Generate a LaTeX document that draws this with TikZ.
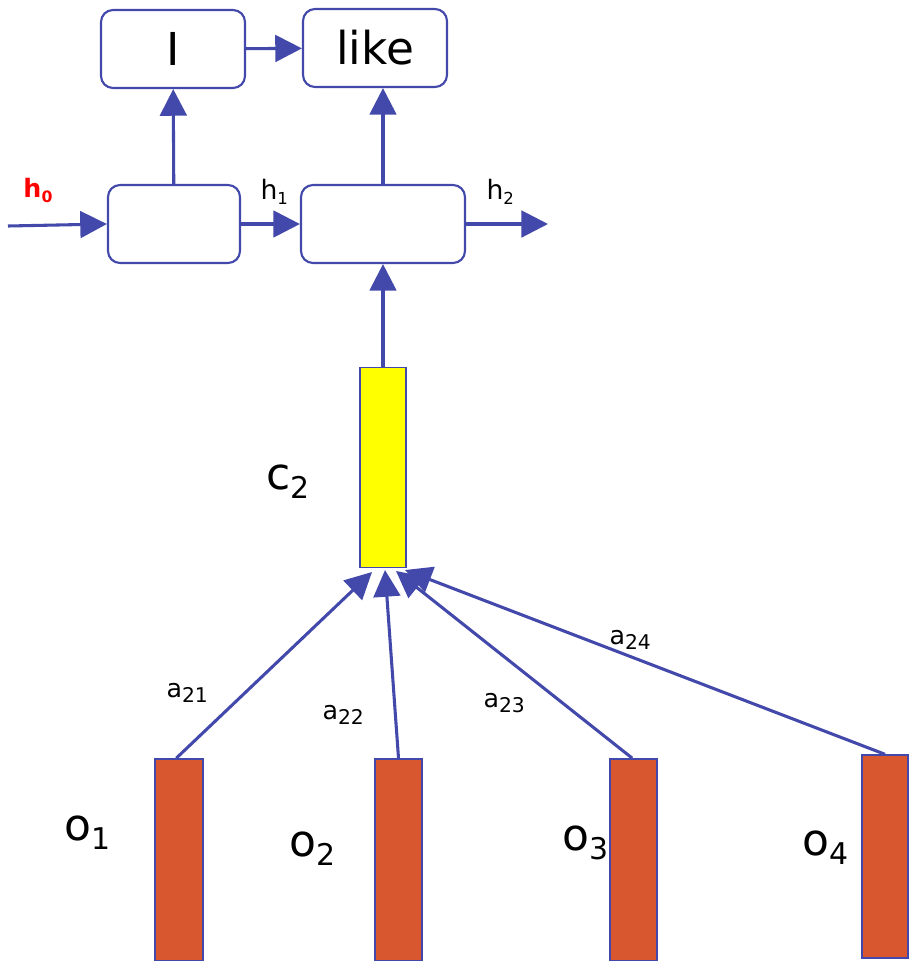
\documentclass[tikz,border=0pt]{standalone}
\usepackage{fontspec}
\setmainfont{DejaVu Sans}
\usetikzlibrary{arrows.meta}

\definecolor{lineblue}{RGB}{67,73,171}
\definecolor{encred}{RGB}{216,87,47}
\definecolor{ctxyellow}{RGB}{255,255,0}

\newcommand{\lowsub}[2][0.7]{\raisebox{-0.22em}{\scalebox{#1}{#2}}}

\tikzset{every picture/.style={line width=0.75pt}}
\tikzset{
  cell/.style={draw=lineblue, line width=1.6pt, rounded corners=9pt, fill=white, inner sep=0pt},
  bar/.style={draw=lineblue, line width=1.3pt, inner sep=0pt},
  arr/.style={draw=lineblue, line width=2.3pt, -{Triangle[length=20pt,width=20pt]}},
  lbl/.style={anchor=base west, inner sep=0pt},
}

\begin{document}
\begin{tikzpicture}[x=0.75pt,y=0.75pt,yscale=-1,xscale=1]
\useasboundingbox (0,0) rectangle (909,961);

%words
\node [cell, minimum width=108pt, minimum height=58.5pt] (wI) at (173,49) {\fontsize{34}{38}\selectfont I};
\node [cell, minimum width=108pt, minimum height=58.5pt] (wlike) at (375,48) {\fontsize{34}{38}\selectfont like};
%decoder cells
\node [cell, minimum width=99pt, minimum height=58.5pt] (dec1) at (174,224) {};
\node [cell, minimum width=123pt, minimum height=58.5pt] (dec2) at (383,224) {};
%context vector
\node [bar, fill=ctxyellow, minimum width=34.5pt, minimum height=150pt] (ctx) at (383,467.5) {};
%encoder outputs
\node [bar, fill=encred, minimum width=36pt, minimum height=151.5pt] (enc1) at (179,860) {};
\node [bar, fill=encred, minimum width=35pt, minimum height=151.5pt] (enc2) at (398.5,860) {};
\node [bar, fill=encred, minimum width=35pt, minimum height=151.5pt] (enc3) at (633.5,860) {};
\node [bar, fill=encred, minimum width=34.5pt, minimum height=152pt] (enc4) at (885,856.5) {};

\coordinate (hin) at (8,226);
\coordinate (hout) at (548,224);
\coordinate (in1) at (372,572);
\coordinate (in2) at (385,570);
\coordinate (in3) at (396,571);
\coordinate (in4) at (405,570);

%arrows
\draw [arr] (wI) -- (wlike);
\draw [arr] (dec1) -- (wI);
\draw [arr] (dec2.north) -- (wlike.south -| dec2.north);
\draw [arr] (hin) -- (dec1.west);
\draw [arr] (dec1) -- (dec2);
\draw [arr] (dec2.east) -- (hout);
\draw [arr] (ctx) -- (ctx.north |- dec2.south);
\draw [arr] ([xshift=-2pt]enc1.north) -- (in1);
\draw [arr] (enc2.north) -- (in2);
\draw [arr] ([xshift=-1pt]enc3.north) -- (in3);
\draw [arr] (enc4.north) -- (in4);

% Text Node
\node [lbl, text=red, font=\bfseries\fontsize{19}{22}\selectfont] (lh0) at (23,197) {h\lowsub[0.62]{0}};
\node [lbl, font=\fontsize{20}{23}\selectfont] (lh1) at (260,199) {h\lowsub[0.62]{1}};
\node [lbl, font=\fontsize{20}{23}\selectfont] (lh2) at (486,199) {h\lowsub[0.62]{2}};
\node [lbl, font=\fontsize{33}{38}\selectfont] (lc2) at (266,489) {c\lowsub[0.68]{2}};
\node [lbl, font=\fontsize{33}{38}\selectfont] (lo1) at (64,840) {o\lowsub[0.68]{1}};
\node [lbl, font=\fontsize{33}{38}\selectfont] (lo2) at (289,856) {o\lowsub[0.68]{2}};
\node [lbl, font=\fontsize{33}{38}\selectfont] (lo3) at (562,850) {o\lowsub[0.68]{3}};
\node [lbl, font=\fontsize{33}{38}\selectfont] (lo4) at (802,855) {o\lowsub[0.68]{4}};
\node [lbl, font=\fontsize{19}{22}\selectfont] (la21) at (166,697) {a\lowsub[0.8]{21}};
\node [lbl, font=\fontsize{19}{22}\selectfont] (la22) at (322,719) {a\lowsub[0.8]{22}};
\node [lbl, font=\fontsize{19}{22}\selectfont] (la23) at (483,707) {a\lowsub[0.8]{23}};
\node [lbl, font=\fontsize{19}{22}\selectfont] (la24) at (609,644) {a\lowsub[0.8]{24}};

\end{tikzpicture}
\end{document}
